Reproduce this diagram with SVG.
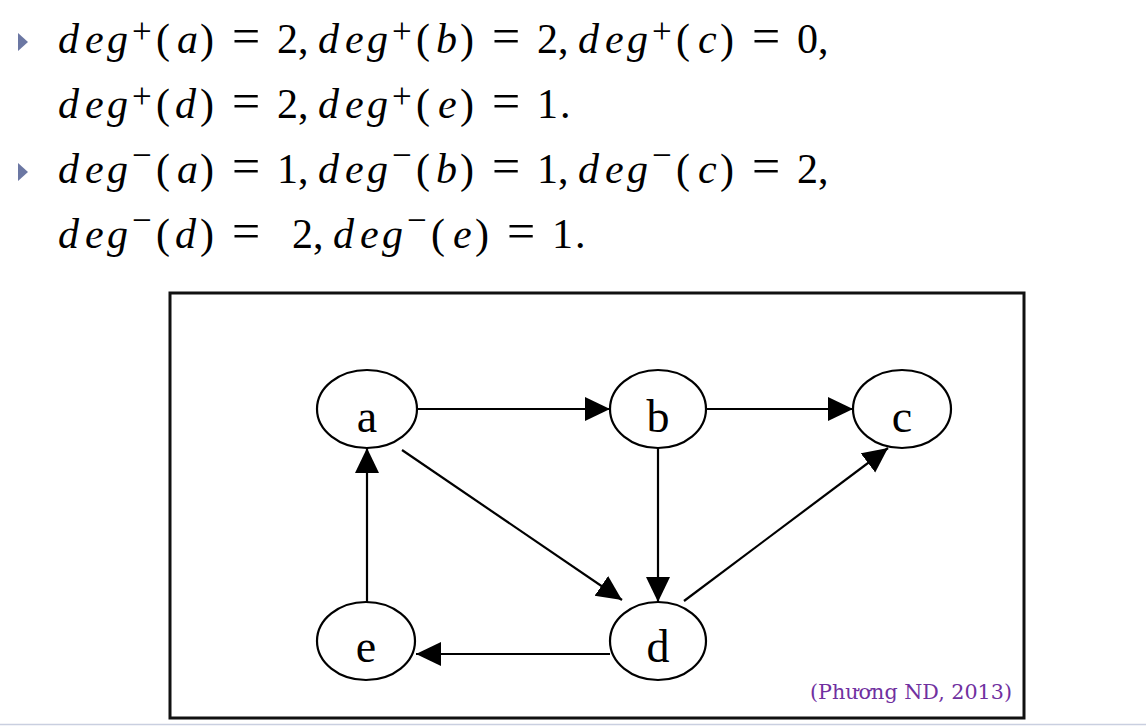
<svg xmlns="http://www.w3.org/2000/svg" width="1146" height="728" viewBox="0 0 1146 728">
<style>
.m{font-family:"Liberation Serif","Times New Roman",serif;font-size:42px;fill:#000}
.i{font-style:italic}
.sup{font-size:35px}
.eq{font-size:50px}
.node ellipse{fill:#fff;stroke:#000;stroke-width:2.2}
.node text{font-family:"Liberation Serif","Times New Roman",serif;font-size:46px;text-anchor:middle;fill:#000}
.edge{stroke:#000;stroke-width:2.2;fill:none;marker-end:url(#ah)}
.bullet{fill:#6b77a3}
</style>
<defs>
<marker id="ah" markerUnits="userSpaceOnUse" markerWidth="26" markerHeight="26" refX="25" refY="12" orient="auto">
<path d="M0,0 L25,12 L0,24 z" fill="#000"/>
</marker>
</defs>
<rect width="1146" height="728" fill="#fff"/>
<polygon class="bullet" points="18,33 28,42 18,51"/>
<polygon class="bullet" points="18,163 28,172 18,181"/>
<text class="m" y="53"><tspan class="i" x="58 85 107">deg</tspan><tspan class="sup" x="132" y="43">+</tspan><tspan x="156" y="53">(</tspan><tspan class="i" x="177">a</tspan><tspan x="200">)</tspan><tspan class="eq" x="232">=</tspan><tspan x="277">2</tspan><tspan x="298">,</tspan><tspan class="i" x="318 345 367">deg</tspan><tspan class="sup" x="392" y="43">+</tspan><tspan x="416" y="53">(</tspan><tspan class="i" x="436">b</tspan><tspan x="460">)</tspan><tspan class="eq" x="492">=</tspan><tspan x="537">2</tspan><tspan x="558">,</tspan><tspan class="i" x="578 605 627">deg</tspan><tspan class="sup" x="652" y="43">+</tspan><tspan x="676" y="53">(</tspan><tspan class="i" x="698">c</tspan><tspan x="720">)</tspan><tspan class="eq" x="752">=</tspan><tspan x="797">0</tspan><tspan x="818">,</tspan></text>
<text class="m" y="118"><tspan class="i" x="58 85 107">deg</tspan><tspan class="sup" x="132" y="108">+</tspan><tspan x="156" y="118">(</tspan><tspan class="i" x="175">d</tspan><tspan x="200">)</tspan><tspan class="eq" x="232">=</tspan><tspan x="277">2</tspan><tspan x="298">,</tspan><tspan class="i" x="318 345 367">deg</tspan><tspan class="sup" x="392" y="108">+</tspan><tspan x="416" y="118">(</tspan><tspan class="i" x="438">e</tspan><tspan x="460">)</tspan><tspan class="eq" x="492">=</tspan><tspan x="537">1</tspan><tspan x="560">.</tspan></text>
<text class="m" y="183"><tspan class="i" x="58 85 107">deg</tspan><tspan class="sup" x="132" y="167">−</tspan><tspan x="156" y="183">(</tspan><tspan class="i" x="177">a</tspan><tspan x="200">)</tspan><tspan class="eq" x="232">=</tspan><tspan x="277">1</tspan><tspan x="298">,</tspan><tspan class="i" x="318 345 367">deg</tspan><tspan class="sup" x="392" y="167">−</tspan><tspan x="416" y="183">(</tspan><tspan class="i" x="436">b</tspan><tspan x="460">)</tspan><tspan class="eq" x="492">=</tspan><tspan x="537">1</tspan><tspan x="558">,</tspan><tspan class="i" x="578 605 627">deg</tspan><tspan class="sup" x="652" y="167">−</tspan><tspan x="676" y="183">(</tspan><tspan class="i" x="698">c</tspan><tspan x="720">)</tspan><tspan class="eq" x="752">=</tspan><tspan x="797">2</tspan><tspan x="818">,</tspan></text>
<text class="m" y="248"><tspan class="i" x="58 85 107">deg</tspan><tspan class="sup" x="132" y="232">−</tspan><tspan x="156" y="248">(</tspan><tspan class="i" x="175">d</tspan><tspan x="200">)</tspan><tspan class="eq" x="232">=</tspan><tspan x="292">2</tspan><tspan x="313">,</tspan><tspan class="i" x="333 360 382">deg</tspan><tspan class="sup" x="407" y="232">−</tspan><tspan x="431" y="248">(</tspan><tspan class="i" x="453">e</tspan><tspan x="475">)</tspan><tspan class="eq" x="507">=</tspan><tspan x="552">1</tspan><tspan x="575">.</tspan></text>
<rect x="170" y="293" width="854" height="425" fill="#fff" stroke="#111" stroke-width="3"/>
<g id="connectors">
<line class="edge" x1="417" y1="409" x2="610" y2="409"/>
<line class="edge" x1="707" y1="409" x2="853" y2="409"/>
<line class="edge" x1="658" y1="448" x2="658" y2="602"/>
<line class="edge" x1="402" y1="450" x2="622" y2="600"/>
<line class="edge" x1="684" y1="601" x2="888" y2="448"/>
<line class="edge" x1="610" y1="654" x2="416" y2="654"/>
<line class="edge" x1="367" y1="602" x2="367" y2="448"/>
</g>
<g id="node-a" class="node"><ellipse cx="367" cy="409" rx="50" ry="39"/><text x="367" y="432">a</text></g>
<g id="node-b" class="node"><ellipse cx="658" cy="409" rx="48" ry="39"/><text x="658" y="432">b</text></g>
<g id="node-c" class="node"><ellipse cx="902" cy="409" rx="49" ry="39"/><text x="902" y="432">c</text></g>
<g id="node-d" class="node"><ellipse cx="658" cy="641" rx="48" ry="39"/><text x="658" y="662">d</text></g>
<g id="node-e" class="node"><ellipse cx="366" cy="641" rx="49" ry="39"/><text x="366" y="662">e</text></g>
<text x="1012" y="699" text-anchor="end" textLength="202" lengthAdjust="spacingAndGlyphs" font-family="DejaVu Serif, Liberation Serif, serif" font-size="21" fill="#7030a0">(Phương ND, 2013)</text>
<line x1="0" y1="724.5" x2="1146" y2="724.5" stroke="#c9cfe0" stroke-width="1.5"/>
</svg>
